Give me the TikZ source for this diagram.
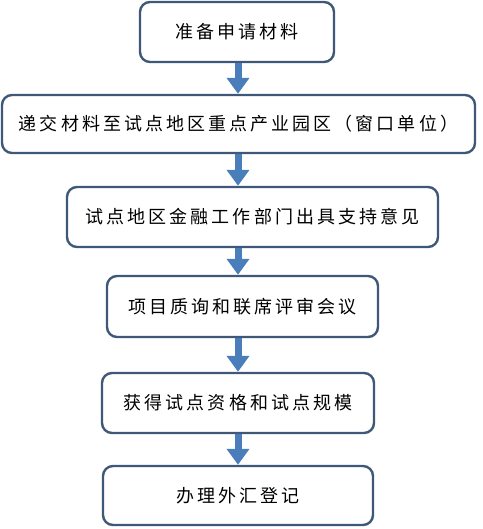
\documentclass[tikz,border=0pt]{standalone}
\usepackage{fontspec}
\setmainfont{Noto Sans CJK SC}[LetterSpace=17]
\usetikzlibrary{arrows.meta}
\definecolor{boxline}{HTML}{3F5877}
\definecolor{arrowblue}{HTML}{4A7EBB}
\begin{document}
\begin{tikzpicture}
        [x=1pt,y=-1pt,every node/.style={draw=boxline,line width=2.4pt,rounded corners=10pt,fill=white,
          minimum height=60pt,inner sep=0pt,font=\fontsize{18pt}{22pt}\selectfont}]
        \useasboundingbox (0,0) rectangle (482,529);
        %steps
        \node[minimum width=194pt] (S1) at (237,32)  {准备申请材料};
        \node[minimum width=473pt,minimum height=58pt] (S2) at (238.5,124) {递交材料至试点地区重点产业园区（窗口单位）};
        \node[minimum width=371pt] (S3) at (252.5,217) {试点地区金融工作部门出具支持意见};
        \node[minimum width=271pt,minimum height=61pt] (S4) at (242.5,306.5) {项目质询和联席评审会议};
        \node[minimum width=272pt] (S5) at (238,403) {获得试点资格和试点规模};
        \node[minimum width=270pt,minimum height=59pt] (S6) at (238,495.5) {办理外汇登记};
        \coordinate (AX) at (238,0);

        \draw[arrowblue, line width=7pt, every edge/.style={draw,-{Triangle[width=22pt,length=16pt]}}]
        (S1.south -| AX) edge (S2.north -| AX)
        (S2.south -| AX) edge (S3.north -| AX)
        (S3.south -| AX) edge (S4.north -| AX)
        (S4.south -| AX) edge (S5.north -| AX)
        (S5.south -| AX) edge (S6.north -| AX);
\end{tikzpicture}
\end{document}
